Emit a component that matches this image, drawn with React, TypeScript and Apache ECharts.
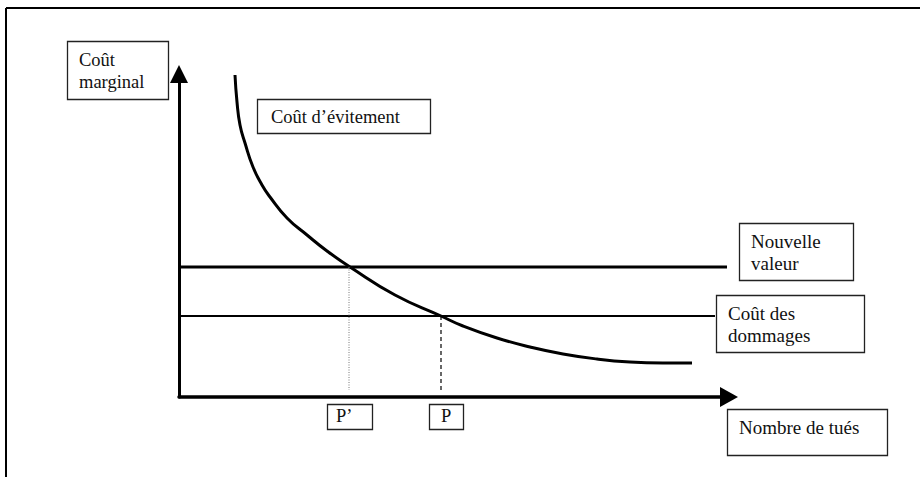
import React, { useEffect, useRef } from "react";
import * as echarts from "echarts";

// Curve "Coût d'évitement" points [nombre de tués, coût marginal]
const avoidanceCurve: [number, number][] = [
  [56, 322], [58, 295], [61, 272], [66, 254], [74, 230], [83, 212], [91, 200], [108, 179],
  [128, 162], [148, 146], [171, 130], [216, 102], [262, 81], [284, 71],
  [318, 59], [351, 50], [384, 43], [418, 38], [451, 35], [484, 34], [513, 34],
];
const newValueLine: [number, number][] = [[0, 130], [548, 130]];
const damageCostLine: [number, number][] = [[0, 81], [536, 81]];
const pPrimeDrop: [number, number][] = [[170, 130], [170, 7]];
const pDrop: [number, number][] = [[262, 81], [262, 4]];

const xMax = 550;
const yMax = 323;

const labelYAxis = "Coût\nmarginal";
const labelCurve = "Coût d\u2019évitement";
const labelNew = "Nouvelle\nvaleur";
const labelDamage = "Coût des\ndommages";
const labelX = "Nombre de tués";
const labelPPrime = "P\u2019";
const labelP = "P";

const FONT = "Liberation Serif";

function box(x: number, y: number, w: number, h: number, text: string, tx: number, ty: number, size: number, lh = 22, va: string = "top") {
  return [
    {
      type: "rect",
      shape: { x: x + 0.5, y: y + 0.5, width: w, height: h },
      style: { fill: "#fff", stroke: "#222", lineWidth: 1.3 },
      z: 10,
    },
    {
      type: "text",
      x: tx,
      y: ty,
      style: {
        text,
        fill: "#111",
        fontFamily: FONT,
        fontSize: size,
        lineHeight: lh,
        verticalAlign: va,
        align: "left",
      },
      z: 11,
    },
  ];
}

export default function App() {
  const ref = useRef<HTMLDivElement>(null);
  useEffect(() => {
    if (!ref.current) return;
    const chart = echarts.init(ref.current, null, { renderer: "svg" });
    chart.setOption({
      animation: false,
      backgroundColor: "#fff",
      grid: { left: 179, bottom: 80, top: 74, right: 920 - 729 },
      xAxis: {
        type: "value",
        min: 0,
        max: xMax,
        axisLine: {
          show: true,
          lineStyle: { color: "#000", width: 3.5 },
          symbol: ["none", "triangle"],
          symbolSize: [20, 18],
        },
        axisTick: { show: false },
        axisLabel: { show: false },
        splitLine: { show: false },
      },
      yAxis: {
        type: "value",
        min: 0,
        max: yMax,
        axisLine: {
          show: true,
          lineStyle: { color: "#000", width: 3 },
          symbol: ["none", "triangle"],
          symbolSize: [18, 18],
        },
        axisTick: { show: false },
        axisLabel: { show: false },
        splitLine: { show: false },
      },
      series: [
        {
          type: "line",
          data: avoidanceCurve,
          smooth: 0.5,
          symbol: "none",
          lineStyle: { color: "#000", width: 3 },
          z: 3,
        },
        {
          type: "line",
          data: newValueLine,
          symbol: "none",
          lineStyle: { color: "#000", width: 3 },
        },
        {
          type: "line",
          data: damageCostLine,
          symbol: "none",
          lineStyle: { color: "#000", width: 2 },
        },
        {
          type: "line",
          data: pPrimeDrop,
          symbol: "none",
          lineStyle: { color: "#777", width: 1, type: [1, 1.5] },
        },
        {
          type: "line",
          data: pDrop,
          symbol: "none",
          lineStyle: { color: "#000", width: 1.2, type: [4, 3] },
        },
      ],
      graphic: [
        { type: "line", shape: { x1: 6, y1: 8, x2: 920, y2: 8 }, style: { stroke: "#000", lineWidth: 2 } },
        { type: "line", shape: { x1: 6, y1: 8, x2: 6, y2: 477 }, style: { stroke: "#000", lineWidth: 2 } },
        ...box(67, 41, 101, 58, labelYAxis, 79, 49, 18.5),
        ...box(257, 99, 173, 34, labelCurve, 271, 117, 18.5, 20, "middle"),
        ...box(739, 223, 114, 57, labelNew, 751, 230, 19),
        ...box(716, 295, 148, 57, labelDamage, 728, 302, 19),
        ...box(727, 409, 160, 46, labelX, 739, 427, 19, 22, "middle"),
        ...box(327, 404, 45, 25, labelPPrime, 336, 416, 18.5, 20, "middle"),
        ...box(429, 404, 34, 25, labelP, 441, 416, 18.5, 20, "middle"),
      ],
    });
    return () => chart.dispose();
  }, []);
  return (
    <div
      ref={ref}
      style={{ position: "fixed", left: 0, top: 0, width: 920, height: 477 }}
    />
  );
}
